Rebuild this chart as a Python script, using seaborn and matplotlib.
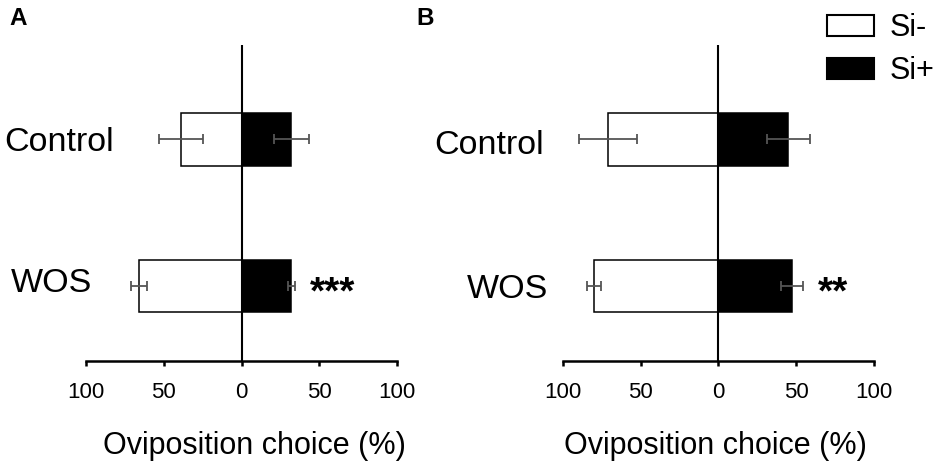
import numpy as np
import pandas as pd
import matplotlib
matplotlib.use("Agg")
import matplotlib.pyplot as plt
import matplotlib.transforms as mtransforms
from matplotlib.patches import Patch
import seaborn as sns

# values (% oviposition choice, mean and error)
treatments = ["Control", "WOS"]
a_si_minus = [39, 66]
a_si_minus_err = [14, 5]
a_si_plus = [32, 32]
a_si_plus_err = [11.5, 2.5]
b_si_minus = [71, 80]
b_si_minus_err = [18.5, 4.5]
b_si_plus = [45, 47.5]
b_si_plus_err = [14, 7]
stars_a = ["", "***"]
stars_b = ["", "**"]
tick_vals = [-100, -50, 0, 50, 100]
tick_labels = ["100", "50", "0", "50", "100"]

sns.set_style("white")
plt.rcParams["font.family"] = ["Liberation Sans", "DejaVu Sans"]
plt.rcParams["text.color"] = "black"
plt.rcParams["axes.labelcolor"] = "black"
plt.rcParams["xtick.color"] = "black"

fig = plt.figure(figsize=(9.45, 4.65), dpi=100)
ax_a = fig.add_axes([0.0910, 0.2237, 0.3294, 0.6796])
ax_b = fig.add_axes([0.5955, 0.2237, 0.3294, 0.6796])

panels = [
    (ax_a, a_si_minus, a_si_minus_err, a_si_plus, a_si_plus_err, stars_a,
     [(-0.088, 0.0), (-0.112, -0.04)], 0.541),
    (ax_b, b_si_minus, b_si_minus_err, b_si_plus, b_si_plus_err, stars_b,
     [(-0.237, 0.02), (-0.176, 0.0)], 0.49),
]

for ax, sm, sm_err, sp, sp_err, stars, lab_pos, xlab_x in panels:
    df = pd.DataFrame({
        "treatment": treatments * 2,
        "group": ["Si-"] * 2 + ["Si+"] * 2,
        "value": [-v for v in sm] + list(sp),
    })
    sns.barplot(data=df, x="value", y="treatment", hue="group",
                hue_order=["Si-", "Si+"], palette=["white", "black"],
                dodge=False, width=0.358, edgecolor="black", linewidth=1.1,
                orient="h", errorbar=None, legend=False, ax=ax)
    ypos = np.arange(len(treatments))
    ax.errorbar(x=[-v for v in sm], y=ypos, xerr=sm_err, fmt="none",
                ecolor="#555555", elinewidth=1.3, capsize=3.6, capthick=1.3, zorder=5)
    ax.errorbar(x=sp, y=ypos, xerr=sp_err, fmt="none",
                ecolor="#555555", elinewidth=1.3, capsize=3.6, capthick=1.3, zorder=5)
    ax.axvline(0, color="black", lw=1.5, zorder=6)

    ax.set_xlim(-100, 100)
    ax.set_ylim(1.51, -0.644)
    for s in ["top", "left", "right"]:
        ax.spines[s].set_visible(False)
    ax.spines["bottom"].set_linewidth(1.8)
    ax.spines["bottom"].set_color("black")
    ax.set_xticks(tick_vals)
    ax.set_xticklabels(tick_labels, fontsize=16)
    ax.tick_params(axis="x", direction="out", length=3.6, width=1.8,
                   color="black", pad=11.5, bottom=True)
    ax.set_yticks([])
    ax.set_ylabel("")
    ax.set_xlabel("Oviposition choice (%)", fontsize=22)
    ax.xaxis.set_label_coords(xlab_x, -0.22)

    trans = mtransforms.blended_transform_factory(ax.transAxes, ax.transData)
    for i, name in enumerate(treatments):
        ax.text(lab_pos[i][0], i + lab_pos[i][1], name, transform=trans,
                fontsize=24.5, ha="center", va="center_baseline")
    for i, st in enumerate(stars):
        if st:
            ax.annotate(st, xy=(sp[i] + sp_err[i], i), xytext=(15, -17),
                        textcoords="offset pixels", fontsize=28, fontweight="bold",
                        ha="left", va="baseline")

fig.text(0.010, 0.946, "A", fontsize=17.5, fontweight="bold")
fig.text(0.441, 0.946, "B", fontsize=17.5, fontweight="bold")

handles = [Patch(facecolor="white", edgecolor="black", linewidth=1.5),
           Patch(facecolor="black", edgecolor="black", linewidth=1.5)]
fig.legend(handles, ["Si-", "Si+"], loc="upper left",
           bbox_to_anchor=(0.8748, 0.972), frameon=False, fontsize=22,
           handlelength=1.55, handleheight=0.69, handletextpad=0.5,
           labelspacing=0.42, borderpad=0, borderaxespad=0)

fig.savefig("out.png", dpi=100)
